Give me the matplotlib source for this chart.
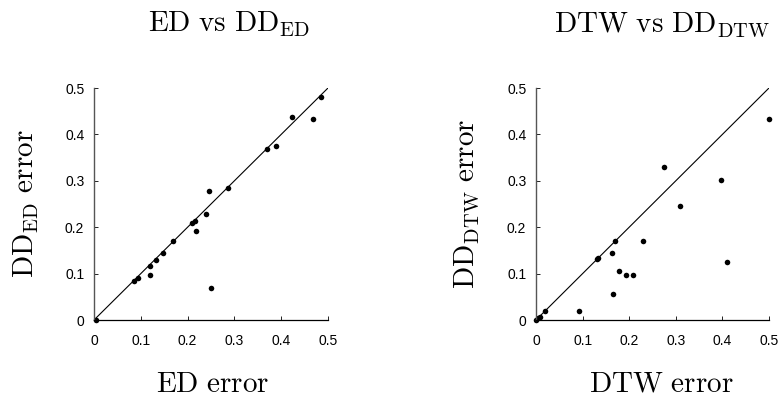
import matplotlib
matplotlib.use("Agg")
import matplotlib.pyplot as plt

plt.rcParams['mathtext.fontset'] = 'cm'
plt.rcParams['font.family'] = ['Liberation Sans', 'DejaVu Sans']

# Left panel: ED error vs DD_ED error
ed_x = [0.004, 0.085, 0.093, 0.119, 0.119, 0.133, 0.147, 0.169, 0.210, 0.216,
        0.217, 0.239, 0.245, 0.250, 0.286, 0.369, 0.388, 0.424, 0.467, 0.484]
ed_y = [0.000, 0.085, 0.090, 0.116, 0.096, 0.130, 0.144, 0.171, 0.208, 0.213,
        0.192, 0.228, 0.277, 0.068, 0.284, 0.368, 0.376, 0.438, 0.433, 0.480]

# Right panel: DTW error vs DD_DTW error
dtw_x = [0.000, 0.004, 0.008, 0.020, 0.093, 0.131, 0.133, 0.164, 0.170, 0.165,
         0.178, 0.193, 0.208, 0.230, 0.274, 0.310, 0.397, 0.409, 0.500]
dtw_y = [0.000, 0.004, 0.007, 0.019, 0.019, 0.131, 0.133, 0.144, 0.170, 0.056,
         0.106, 0.098, 0.097, 0.170, 0.329, 0.246, 0.302, 0.124, 0.434]

ticks = [0, 0.1, 0.2, 0.3, 0.4, 0.5]
tick_labels = ['0', '0.1', '0.2', '0.3', '0.4', '0.5']

W, H = 782, 397
panels = [
    dict(x=ed_x, y=ed_y, title=r'$\mathrm{ED\ vs\ DD_{ED}}$',
         xlabel=r'$\mathrm{ED\ error}$', ylabel=r'$\mathrm{DD_{ED}\ error}$',
         rect=[94/W, 1-320/H, 234/W, 232/H], title_x=229, xlab_x=213, ylab_x=26),
    dict(x=dtw_x, y=dtw_y, title=r'$\mathrm{DTW\ vs\ DD_{DTW}}$',
         xlabel=r'$\mathrm{DTW\ error}$', ylabel=r'$\mathrm{DD_{DTW}\ error}$',
         rect=[536/W, 1-320/H, 233/W, 232/H], title_x=662, xlab_x=661, ylab_x=467),
]

fig = plt.figure(figsize=(W/100, H/100), dpi=100)
for p in panels:
    ax = fig.add_axes(p['rect'])
    ax.plot([0, 0.5], [0, 0.5], color='black', lw=0.8, zorder=1)
    ax.scatter(p['x'], p['y'], s=16, color='black', zorder=2, linewidths=0, clip_on=False)
    ax.set_xlim(0, 0.5)
    ax.set_ylim(0, 0.5)
    ax.set_xticks(ticks)
    ax.set_yticks(ticks)
    ax.set_xticklabels(tick_labels)
    ax.set_yticklabels(tick_labels)
    ax.tick_params(direction='in', length=3, width=0.6, labelsize=10)
    ax.tick_params(axis='x', pad=10)
    ax.tick_params(axis='y', pad=7)
    for s in ['top', 'right']:
        ax.spines[s].set_visible(False)
    ax.spines['left'].set_linewidth(1.0)
    ax.spines['left'].set_color('#555555')
    ax.spines['bottom'].set_linewidth(0.9)
    fig.text(p['title_x']/W, 1 - 32/H, p['title'], ha='center', va='baseline', fontsize=21)
    fig.text(p['xlab_x']/W, 1 - 392/H, p['xlabel'], ha='center', va='baseline', fontsize=21)
    fig.text(p['ylab_x']/W, 1 - 204/H, p['ylabel'], ha='center', va='center',
             fontsize=21, rotation=90)

fig.savefig('out.png', dpi=100)
